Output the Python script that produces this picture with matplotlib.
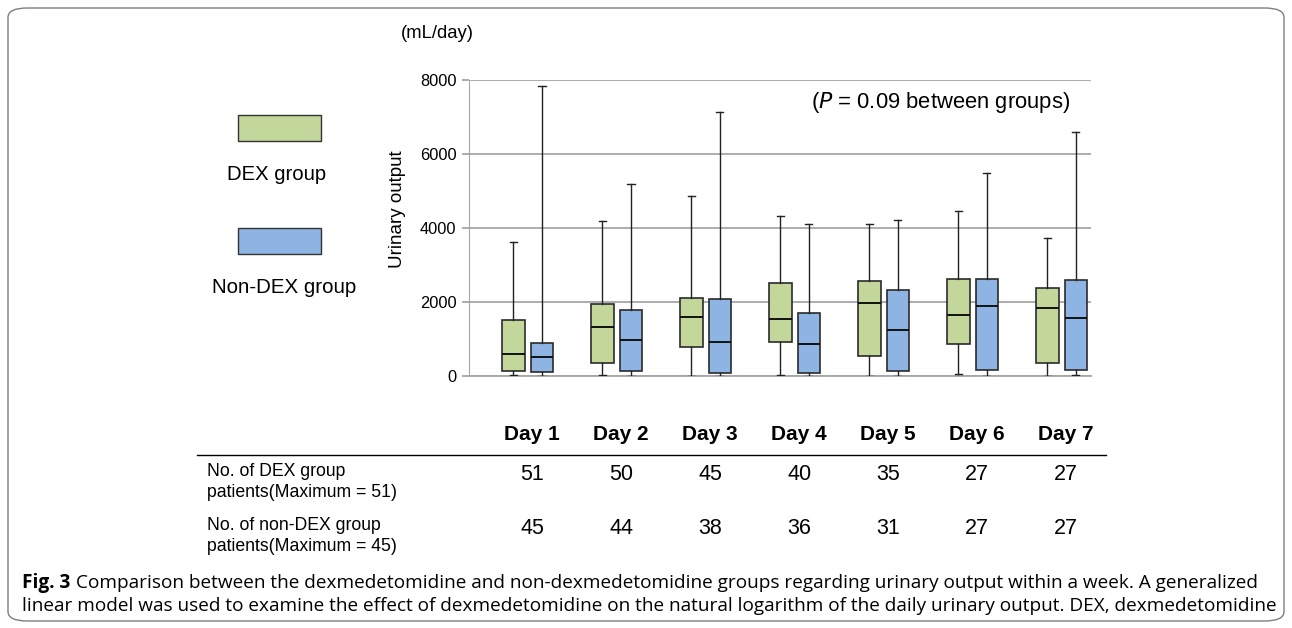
import matplotlib.pyplot as plt
from matplotlib.patches import Rectangle, FancyBboxPatch
import matplotlib.transforms as mtransforms

plt.rcParams['font.family'] = ['Liberation Sans', 'DejaVu Sans']

days = ['Day 1', 'Day 2', 'Day 3', 'Day 4', 'Day 5', 'Day 6', 'Day 7']

# five-number summaries (mL/day)
dex_low = [15, 20, 10, 40, 10, 50, 10]
dex_q1 = [130, 345, 795, 930, 540, 875, 355]
dex_med = [600, 1325, 1590, 1545, 1975, 1660, 1850]
dex_q3 = [1505, 1945, 2120, 2505, 2580, 2625, 2390]
dex_high = [3615, 4180, 4865, 4335, 4110, 4470, 3725]

non_low = [5, 5, 5, 5, 5, 5, 25]
non_q1 = [105, 130, 85, 85, 130, 165, 165]
non_med = [515, 965, 930, 875, 1230, 1895, 1580]
non_q3 = [895, 1785, 2075, 1695, 2315, 2625, 2600]
non_high = [7845, 5190, 7145, 4110, 4210, 5500, 6590]

n_dex = [51, 50, 45, 40, 35, 27, 27]
n_non = [45, 44, 38, 36, 31, 27, 27]

green = '#c4d79b'
blue = '#8db4e2'

W, H = 1292, 628
fig = plt.figure(figsize=(W / 100, H / 100), dpi=100)

def fx(px):
    return px / W

def fy(py):
    return 1 - py / H

ax = fig.add_axes([fx(469), fy(376), fx(1091) - fx(469), fy(80) - fy(376)])

def stats(low, q1, med, q3, high):
    return [dict(whislo=a, q1=b, med=c, q3=d, whishi=e, fliers=[])
            for a, b, c, d, e in zip(low, q1, med, q3, high)]

pos = list(range(len(days)))
off = 0.16
bw = 0.25
common = dict(widths=bw, patch_artist=True, showfliers=False, zorder=3,
              whiskerprops=dict(color='#222222', lw=1.0),
              capprops=dict(color='#222222', lw=1.0),
              medianprops=dict(color='#111111', lw=1.4))
b1 = ax.bxp(stats(dex_low, dex_q1, dex_med, dex_q3, dex_high),
            positions=[p - off for p in pos], capwidths=0.08, **common)
b2 = ax.bxp(stats(non_low, non_q1, non_med, non_q3, non_high),
            positions=[p + off for p in pos], capwidths=0.08, **common)
for b, c in [(b1, green), (b2, blue)]:
    for patch in b['boxes']:
        patch.set_facecolor(c)
        patch.set_edgecolor('#2b2b2b')
        patch.set_linewidth(1.2)

ax.set_xlim(-0.66, 6.33)
ax.set_ylim(0, 8000)
ax.set_yticks([0, 2000, 4000, 6000, 8000])
ax.set_xticks([])
ax.yaxis.grid(True, color='#a6a6a6', lw=1.3, zorder=0)
ax.set_axisbelow(True)
for s in ['top', 'right']:
    ax.spines[s].set_visible(False)
ax.spines['left'].set_color('#a6a6a6')
ax.spines['bottom'].set_color('#a6a6a6')
ax.spines['bottom'].set_linewidth(1.3)
ax.tick_params(axis='y', length=5, width=1.3, color='#a6a6a6', labelsize=11.8, pad=4)

fig.text(fx(398), fy(209), 'Urinary output', rotation=90, ha='center',
         va='center', fontsize=13.5)
ax.text(0.966, 0.925, '($P$ = 0.09 between groups)', transform=ax.transAxes,
        ha='right', va='center', fontsize=15.8)
fig.text(fx(437), fy(33), '(mL/day)', ha='center', va='center', fontsize=13.3)

# legend boxes
fig.add_artist(Rectangle((fx(238), fy(141)), fx(83), fy(115) - fy(141),
                         facecolor=green, edgecolor='#333333', lw=1.0))
fig.add_artist(Rectangle((fx(238), fy(254)), fx(83), fy(228) - fy(254),
                         facecolor=blue, edgecolor='#333333', lw=1.0))
fig.text(fx(277), fy(174), 'DEX group', ha='center', va='center', fontsize=14.6)
fig.text(fx(284), fy(287), 'Non-DEX group', ha='center', va='center', fontsize=14.8)

# table below the chart
tr = mtransforms.blended_transform_factory(ax.transData, fig.transFigure)
for i, d in enumerate(days):
    fig.text(i + 0.05, fy(435), d, transform=tr, ha='center', va='center',
             fontsize=15, fontweight='bold')
    fig.text(i + 0.05, fy(475), str(n_dex[i]), transform=tr, ha='center',
             va='center', fontsize=15.5)
    fig.text(i + 0.05, fy(528), str(n_non[i]), transform=tr, ha='center',
             va='center', fontsize=15.5)
fig.add_artist(plt.Line2D([fx(197), fx(1106)], [fy(455), fy(455)],
                          color='black', lw=1.0))
fig.text(fx(207), fy(482), 'No. of DEX group\npatients(Maximum = 51)',
         ha='left', va='center', fontsize=12.7, linespacing=1.25)
fig.text(fx(207), fy(536), 'No. of non-DEX group\npatients(Maximum = 45)',
         ha='left', va='center', fontsize=12.7, linespacing=1.25)

# caption, fitted to the width of the reference lines
cap = ['Open Sans', 'DejaVu Sans']
r = fig.canvas.get_renderer()
line1 = ('Comparison between the dexmedetomidine and non-dexmedetomidine '
         'groups regarding urinary output within a week. A generalized')
line2 = ('linear model was used to examine the effect of dexmedetomidine on '
         'the natural logarithm of the daily urinary output. DEX, dexmedetomidine')
fs = 12
t0 = fig.text(fx(22), fy(583), 'Fig. 3', ha='left', va='center', fontsize=fs,
              fontweight='bold', family=cap)
t1 = fig.text(fx(80), fy(583), line1, ha='left', va='center', fontsize=fs, family=cap)
t2 = fig.text(fx(22), fy(606), line2, ha='left', va='center', fontsize=fs, family=cap)
w_all = (t0.get_window_extent(r).width + t1.get_window_extent(r).width) * 1.0
k = (1255 - 22 - 6) / w_all
for t in (t0, t1, t2):
    t.set_fontsize(fs * k)
gap = t0.get_window_extent(r).width + 6
t1.set_x(fx(22 + gap))

fig.add_artist(FancyBboxPatch((fx(8), fy(621)), fx(1276), fy(8) - fy(621),
                              boxstyle='round,pad=0,rounding_size=0.015',
                              facecolor='none', edgecolor='#7f7f7f', lw=1.0))

fig.savefig('out.png', dpi=100)
